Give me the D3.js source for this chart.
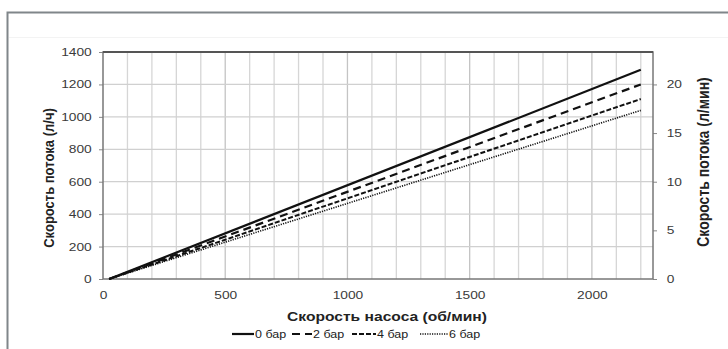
<!DOCTYPE html>
<html>
<head>
<meta charset="utf-8">
<script src="https://cdn.jsdelivr.net/npm/d3@7"></script>
<style>
  html, body { margin: 0; padding: 0; background: #fff; }
  svg { display: block; font-family: "Liberation Sans", Arial, sans-serif; }
</style>
</head>
<body>
<svg id="chart" width="728" height="349"></svg>
<script>
// Pump speed (rpm) at the start and end of each curve
const rpm = [25, 2200];
// Flow rate (l/h) for each outlet pressure
const flow0bar = [0, 1290];
const flow2bar = [0, 1200];
const flow4bar = [0, 1110];
const flow6bar = [0, 1040];
const seriesNames = ["0 бар", "2 бар", "4 бар", "6 бар"];
const xTicks = [0, 500, 1000, 1500, 2000];
const yTicks = [0, 200, 400, 600, 800, 1000, 1200, 1400];
const y2Ticks = [0, 5, 10, 15, 20];

// horizontal stretch applied to all lettering
const SX = 1.25;

const svg = d3.select("#chart");

// outer panel frame
svg.append("path")
  .attr("d", "M7.5,349 V12.5 H728")
  .attr("fill", "none").attr("stroke", "#80868a").attr("stroke-width", 2);
svg.append("line").attr("x1", 9).attr("x2", 728).attr("y1", 37.5).attr("y2", 37.5)
  .attr("stroke", "#f3f3f3");

const m = { left: 103, right: 653, top: 52, bottom: 279 };
const x = d3.scaleLinear().domain([0, 2250]).range([m.left, m.right]);
const y = d3.scaleLinear().domain([0, 1400]).range([m.bottom, m.top]);
const y2 = d3.scaleLinear().domain([0, 1400 / 60]).range([m.bottom, m.top]);

// grid
const g = svg.append("g");
g.selectAll(".vg").data(d3.range(100, 2250, 100)).join("line")
  .attr("x1", d => x(d)).attr("x2", d => x(d))
  .attr("y1", m.top).attr("y2", m.bottom)
  .attr("stroke", d => d % 500 === 0 ? "#c4c4c4" : "#d6d6d6").attr("stroke-width", 1.3);
g.selectAll(".hg").data(yTicks.slice(1, -1)).join("line")
  .attr("x1", m.left).attr("x2", m.right)
  .attr("y1", d => y(d)).attr("y2", d => y(d))
  .attr("stroke", "#d0d0d0").attr("stroke-width", 1.3);

// axes
const axisStyle = sel => {
  sel.select(".domain").remove();
  sel.selectAll(".tick line").attr("stroke", "#888");
  sel.selectAll(".tick text").attr("fill", "#3a3a3a").style("font-size", "11px")
    .attr("transform", `scale(${SX},1)`);
};
svg.append("g").attr("transform", `translate(${m.left},0)`)
  .call(d3.axisLeft(y).tickValues(yTicks).tickSize(4).tickPadding(5).tickFormat(d3.format("d")))
  .call(axisStyle);
svg.append("g").attr("transform", `translate(${m.right},0)`)
  .call(d3.axisRight(y2).tickValues(y2Ticks).tickSize(4).tickPadding(7))
  .call(axisStyle);
svg.append("g").attr("transform", `translate(0,${m.bottom})`)
  .call(d3.axisBottom(x).tickValues(xTicks).tickSize(0).tickPadding(12).tickFormat(d3.format("d")))
  .call(axisStyle);

// plot frame
svg.append("rect")
  .attr("x", m.left).attr("y", m.top)
  .attr("width", m.right - m.left).attr("height", m.bottom - m.top)
  .attr("fill", "none").attr("stroke", "#777").attr("stroke-width", 1.5);
svg.append("line").attr("x1", m.left).attr("x2", m.right).attr("y1", m.top).attr("y2", m.top)
  .attr("stroke", "#555").attr("stroke-width", 2.2);

// curves
const styles = [
  { dash: null, w: 2.2 },
  { dash: "8,5", w: 2.2 },
  { dash: "5,2", w: 2 },
  { dash: "1.2,1.2", w: 1.6 }
];
const seriesValues = [flow0bar, flow2bar, flow4bar, flow6bar];
const line = d3.line().x(d => x(d[0])).y(d => y(d[1]));
seriesValues.forEach((vals, i) => {
  svg.append("path")
    .datum(rpm.map((r, j) => [r, vals[j]]))
    .attr("d", line)
    .attr("fill", "none").attr("stroke", "#111")
    .attr("stroke-width", styles[i].w)
    .attr("stroke-dasharray", styles[i].dash);
});

// axis titles
const title = (tf, txt) => svg.append("text").attr("transform", tf).attr("text-anchor", "middle")
  .style("font-size", "12.5px").style("font-weight", "bold").attr("fill", "#222").text(txt);
title(`translate(387,321) scale(${SX},1)`, "Скорость насоса (об/мин)");
title(`translate(54,178) rotate(-90) scale(1,1.15)`, "Скорость потока (л/ч)").style("font-size", "13px");
title(`translate(709,162) rotate(-90) scale(1,1.15)`, "Скорость потока (л/мин)").style("font-size", "14px");

// legend
const legX = [232, 292, 352, 420];
const legLen = [22, 20, 24, 28];
const leg = svg.append("g");
seriesNames.forEach((name, i) => {
  leg.append("line")
    .attr("x1", legX[i]).attr("x2", legX[i] + legLen[i])
    .attr("y1", 334).attr("y2", 334)
    .attr("stroke", "#111").attr("stroke-width", styles[i].w)
    .attr("stroke-dasharray", styles[i].dash);
  leg.append("text")
    .attr("transform", `translate(${legX[i] + legLen[i] + 1},337.5) scale(${SX},1)`)
    .style("font-size", "10px").attr("fill", "#222").text(name);
});
</script>
</body>
</html>
